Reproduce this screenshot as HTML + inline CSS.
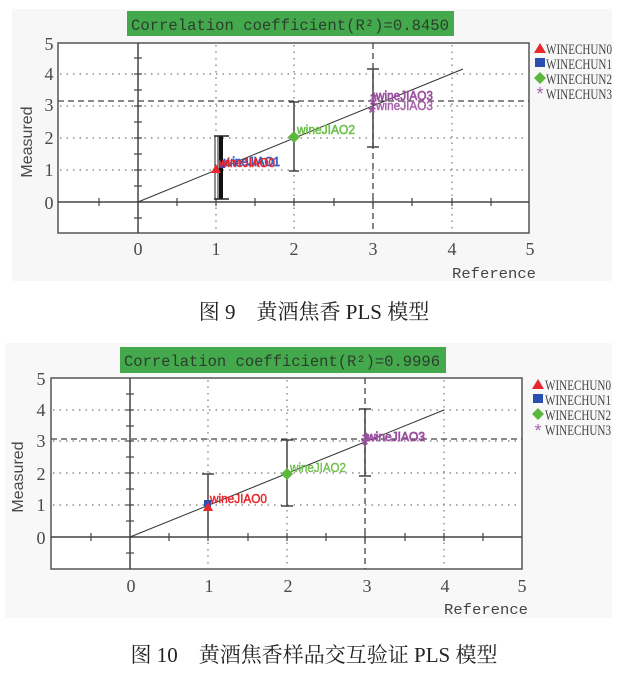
<!DOCTYPE html>
<html><head><meta charset="utf-8"><style>
html,body{margin:0;padding:0;background:#fff;}
svg{display:block;}
</style></head><body>
<svg width="623" height="687" viewBox="0 0 623 687" xmlns="http://www.w3.org/2000/svg">
<!-- ============ CHART 1 ============ -->
<rect x="12" y="9" width="600" height="272" fill="#f7f7f7"/>
<rect x="127" y="11" width="327" height="25" fill="#43a94c"/>
<text x="131" y="30" font-family="Liberation Mono, monospace" font-size="15.5" fill="#2c3e2c" textLength="318" lengthAdjust="spacingAndGlyphs">Correlation coefficient(R²)=0.8450</text>
<rect x="58" y="43" width="471" height="190" fill="#fff" stroke="#555" stroke-width="1.5"/>
<g stroke="#777" stroke-width="1.2" stroke-dasharray="1.5,5" fill="none">
<line x1="60" y1="170" x2="528" y2="170"/>
<line x1="60" y1="138" x2="528" y2="138"/>
<line x1="60" y1="106" x2="528" y2="106"/>
<line x1="60" y1="74" x2="528" y2="74"/>
<line x1="216" y1="45" x2="216" y2="232"/>
<line x1="294" y1="45" x2="294" y2="232"/>
<line x1="452" y1="45" x2="452" y2="232"/>
</g>
<g stroke="#444" stroke-width="1.3" stroke-dasharray="6,4" fill="none">
<line x1="58" y1="101" x2="529" y2="101"/>
<line x1="373" y1="43" x2="373" y2="233"/>
</g>
<g stroke="#444" stroke-width="1.5">
<line x1="58" y1="202" x2="529" y2="202"/>
<line x1="138" y1="43" x2="138" y2="233"/>
</g>
<g stroke="#444" stroke-width="1.2">
<line x1="99" y1="198" x2="99" y2="206"/><line x1="177" y1="198" x2="177" y2="206"/>
<line x1="255" y1="198" x2="255" y2="206"/><line x1="334" y1="198" x2="334" y2="206"/>
<line x1="412" y1="198" x2="412" y2="206"/><line x1="491" y1="198" x2="491" y2="206"/>
<line x1="216" y1="198" x2="216" y2="206"/><line x1="294" y1="198" x2="294" y2="206"/>
<line x1="373" y1="198" x2="373" y2="206"/><line x1="452" y1="198" x2="452" y2="206"/>
<line x1="134" y1="218" x2="142" y2="218"/><line x1="134" y1="186" x2="142" y2="186"/>
<line x1="134" y1="170" x2="142" y2="170"/><line x1="134" y1="154" x2="142" y2="154"/>
<line x1="134" y1="138" x2="142" y2="138"/><line x1="134" y1="122" x2="142" y2="122"/>
<line x1="134" y1="106" x2="142" y2="106"/><line x1="134" y1="90" x2="142" y2="90"/>
<line x1="134" y1="74" x2="142" y2="74"/><line x1="134" y1="58" x2="142" y2="58"/>
</g>
<g font-family="Liberation Serif, serif" font-size="18" fill="#4a4a4a" text-anchor="middle">
<text x="49" y="50">5</text><text x="49" y="80">4</text><text x="49" y="111">3</text>
<text x="49" y="144">2</text><text x="49" y="176">1</text><text x="49" y="209">0</text>
<text x="138" y="255">0</text><text x="216" y="255">1</text><text x="294" y="255">2</text>
<text x="373" y="255">3</text><text x="452" y="255">4</text><text x="530" y="255">5</text>
</g>
<text x="452" y="278" font-family="Liberation Mono, monospace" font-size="15" fill="#444" textLength="84" lengthAdjust="spacingAndGlyphs">Reference</text>
<text transform="translate(32,142) rotate(-90)" font-family="Liberation Sans, sans-serif" font-size="16" fill="#4a4a4a" text-anchor="middle">Measured</text>
<line x1="138" y1="202" x2="463" y2="69" stroke="#333" stroke-width="1"/>
<rect x="215" y="136" width="3" height="63" fill="#fff" stroke="#222" stroke-width="1"/>
<rect x="219" y="136" width="4" height="63" fill="#111"/>
<line x1="214" y1="136" x2="229" y2="136" stroke="#222" stroke-width="1.5"/>
<line x1="214" y1="199" x2="229" y2="199" stroke="#222" stroke-width="1.5"/>
<g stroke="#444" stroke-width="1.5">
<line x1="294" y1="102" x2="294" y2="171"/><line x1="289" y1="102" x2="299" y2="102"/><line x1="289" y1="171" x2="299" y2="171"/>
<line x1="373" y1="69" x2="373" y2="147"/><line x1="367" y1="69" x2="379" y2="69"/><line x1="367" y1="147" x2="379" y2="147"/>
</g>
<polygon points="216,164 221,173 211,173" fill="#e8282d"/>
<rect x="219" y="162" width="6" height="6" fill="#2b4fb0"/>
<text x="224" y="166" font-family="Liberation Sans, sans-serif" font-size="13" fill="#3b5fc0" stroke="#3b5fc0" stroke-width="0.8" textLength="56" lengthAdjust="spacingAndGlyphs">wineJIAO1</text>
<text x="219" y="167" font-family="Liberation Sans, sans-serif" font-size="13" fill="#e8282d" stroke="#e8282d" stroke-width="0.6" textLength="56" lengthAdjust="spacingAndGlyphs">wineJIAO0</text>
<polygon points="294,131 300,137 294,143 288,137" fill="#5cb83d"/>
<text x="297" y="134" font-family="Liberation Sans, sans-serif" font-size="13" fill="#6cc04a" stroke="#6cc04a" stroke-width="0.6" textLength="58" lengthAdjust="spacingAndGlyphs">wineJIAO2</text>
<g fill="#9b4f9f" stroke="#9b4f9f" stroke-width="0.8" font-family="Liberation Sans, sans-serif" font-size="18" text-anchor="middle">
<text x="373" y="111">*</text><text x="372" y="119">*</text><text x="374" y="106">*</text>
</g>
<text x="376" y="100" font-family="Liberation Sans, sans-serif" font-size="13" fill="#9b4f9f" stroke="#9b4f9f" stroke-width="0.7" textLength="57" lengthAdjust="spacingAndGlyphs">wineJIAO3</text>
<text x="376" y="110" font-family="Liberation Sans, sans-serif" font-size="13" fill="#a864ab" stroke="#a864ab" stroke-width="0.5" textLength="57" lengthAdjust="spacingAndGlyphs">wineJIAO3</text>
<polygon points="540,43 546,53 534,53" fill="#e8282d"/>
<rect x="535" y="58" width="10" height="9" fill="#2b4fb0"/>
<polygon points="540,72 546,78 540,84 534,78" fill="#5cb83d"/>
<text x="540" y="100" font-family="Liberation Sans, sans-serif" font-size="18" fill="#a864ab" text-anchor="middle">*</text>
<g font-family="Liberation Serif, serif" font-size="15" fill="#444">
<text x="546" y="54" textLength="66" lengthAdjust="spacingAndGlyphs">WINECHUN0</text>
<text x="546" y="69" textLength="66" lengthAdjust="spacingAndGlyphs">WINECHUN1</text>
<text x="546" y="84" textLength="66" lengthAdjust="spacingAndGlyphs">WINECHUN2</text>
<text x="546" y="99" textLength="66" lengthAdjust="spacingAndGlyphs">WINECHUN3</text>
</g>
<text x="314" y="319" font-family="Liberation Serif, 'Noto Serif CJK SC', serif" font-size="21" fill="#222" text-anchor="middle">图 9　黄酒焦香 PLS 模型</text>

<!-- ============ CHART 2 ============ -->
<rect x="5" y="343" width="607" height="275" fill="#f8f8f8"/>
<rect x="120" y="347" width="326" height="26" fill="#43a94c"/>
<text x="124" y="366" font-family="Liberation Mono, monospace" font-size="15.5" fill="#2c3e2c" textLength="316" lengthAdjust="spacingAndGlyphs">Correlation coefficient(R²)=0.9996</text>
<rect x="51" y="378" width="471" height="191" fill="#fff" stroke="#555" stroke-width="1.5"/>
<g stroke="#777" stroke-width="1.2" stroke-dasharray="1.5,5" fill="none">
<line x1="53" y1="505" x2="521" y2="505"/>
<line x1="53" y1="473" x2="521" y2="473"/>
<line x1="53" y1="441" x2="521" y2="441"/>
<line x1="53" y1="410" x2="521" y2="410"/>
<line x1="208" y1="380" x2="208" y2="568"/>
<line x1="287" y1="380" x2="287" y2="568"/>
<line x1="444" y1="380" x2="444" y2="568"/>
</g>
<g stroke="#444" stroke-width="1.3" stroke-dasharray="6,4" fill="none">
<line x1="51" y1="439" x2="522" y2="439"/>
<line x1="365" y1="378" x2="365" y2="569"/>
</g>
<g stroke="#444" stroke-width="1.5">
<line x1="51" y1="537" x2="522" y2="537"/>
<line x1="130" y1="378" x2="130" y2="569"/>
</g>
<g stroke="#444" stroke-width="1.2">
<line x1="91" y1="533" x2="91" y2="541"/><line x1="169" y1="533" x2="169" y2="541"/>
<line x1="248" y1="533" x2="248" y2="541"/><line x1="326" y1="533" x2="326" y2="541"/>
<line x1="405" y1="533" x2="405" y2="541"/><line x1="483" y1="533" x2="483" y2="541"/>
<line x1="208" y1="533" x2="208" y2="541"/><line x1="287" y1="533" x2="287" y2="541"/>
<line x1="365" y1="533" x2="365" y2="541"/><line x1="444" y1="533" x2="444" y2="541"/>
<line x1="126" y1="553" x2="134" y2="553"/><line x1="126" y1="521" x2="134" y2="521"/>
<line x1="126" y1="505" x2="134" y2="505"/><line x1="126" y1="489" x2="134" y2="489"/>
<line x1="126" y1="473" x2="134" y2="473"/><line x1="126" y1="457" x2="134" y2="457"/>
<line x1="126" y1="441" x2="134" y2="441"/><line x1="126" y1="426" x2="134" y2="426"/>
<line x1="126" y1="410" x2="134" y2="410"/><line x1="126" y1="394" x2="134" y2="394"/>
</g>
<g font-family="Liberation Serif, serif" font-size="18" fill="#4a4a4a" text-anchor="middle">
<text x="41" y="385">5</text><text x="41" y="416">4</text><text x="41" y="447">3</text>
<text x="41" y="480">2</text><text x="41" y="511">1</text><text x="41" y="544">0</text>
<text x="131" y="592">0</text><text x="209" y="592">1</text><text x="288" y="592">2</text>
<text x="367" y="592">3</text><text x="445" y="592">4</text><text x="522" y="592">5</text>
</g>
<text x="444" y="614" font-family="Liberation Mono, monospace" font-size="15" fill="#444" textLength="84" lengthAdjust="spacingAndGlyphs">Reference</text>
<text transform="translate(23,477) rotate(-90)" font-family="Liberation Sans, sans-serif" font-size="16" fill="#4a4a4a" text-anchor="middle">Measured</text>
<line x1="130" y1="537" x2="444" y2="410" stroke="#333" stroke-width="1"/>
<g stroke="#444" stroke-width="1.5">
<line x1="208" y1="474" x2="208" y2="537"/><line x1="202" y1="474" x2="214" y2="474"/>
<line x1="287" y1="440" x2="287" y2="506"/><line x1="281" y1="440" x2="293" y2="440"/><line x1="281" y1="506" x2="293" y2="506"/>
<line x1="365" y1="409" x2="365" y2="476"/><line x1="359" y1="409" x2="371" y2="409"/><line x1="359" y1="476" x2="371" y2="476"/>
</g>
<rect x="204" y="500" width="7" height="7" fill="#2b4fb0"/>
<polygon points="208,502 213,511 203,511" fill="#e8282d"/>
<text x="210" y="503" font-family="Liberation Sans, sans-serif" font-size="13" fill="#e8282d" stroke="#e8282d" stroke-width="0.5" textLength="57" lengthAdjust="spacingAndGlyphs">wineJIAO0</text>
<polygon points="287,468 293,474 287,480 281,474" fill="#5cb83d"/>
<text x="290" y="472" font-family="Liberation Sans, sans-serif" font-size="13" fill="#6cc04a" stroke="#6cc04a" stroke-width="0.4" textLength="56" lengthAdjust="spacingAndGlyphs">wineJIAO2</text>
<g fill="#9b4f9f" stroke="#9b4f9f" stroke-width="0.8" font-family="Liberation Sans, sans-serif" font-size="18" text-anchor="middle">
<text x="365" y="451">*</text><text x="366" y="446">*</text>
</g>
<text x="367" y="441" font-family="Liberation Sans, sans-serif" font-size="13" fill="#9b4f9f" stroke="#9b4f9f" stroke-width="0.8" textLength="58" lengthAdjust="spacingAndGlyphs">wineJIAO3</text>
<polygon points="538,379 544,389 532,389" fill="#e8282d"/>
<rect x="533" y="394" width="10" height="9" fill="#2b4fb0"/>
<polygon points="538,408 544,414 538,420 532,414" fill="#5cb83d"/>
<text x="538" y="437" font-family="Liberation Sans, sans-serif" font-size="18" fill="#a864ab" text-anchor="middle">*</text>
<g font-family="Liberation Serif, serif" font-size="15" fill="#444">
<text x="545" y="390" textLength="66" lengthAdjust="spacingAndGlyphs">WINECHUN0</text>
<text x="545" y="405" textLength="66" lengthAdjust="spacingAndGlyphs">WINECHUN1</text>
<text x="545" y="420" textLength="66" lengthAdjust="spacingAndGlyphs">WINECHUN2</text>
<text x="545" y="435" textLength="66" lengthAdjust="spacingAndGlyphs">WINECHUN3</text>
</g>
<text x="314" y="662" font-family="Liberation Serif, 'Noto Serif CJK SC', serif" font-size="21" fill="#222" text-anchor="middle">图 10　黄酒焦香样品交互验证 PLS 模型</text>
</svg>
</body></html>
